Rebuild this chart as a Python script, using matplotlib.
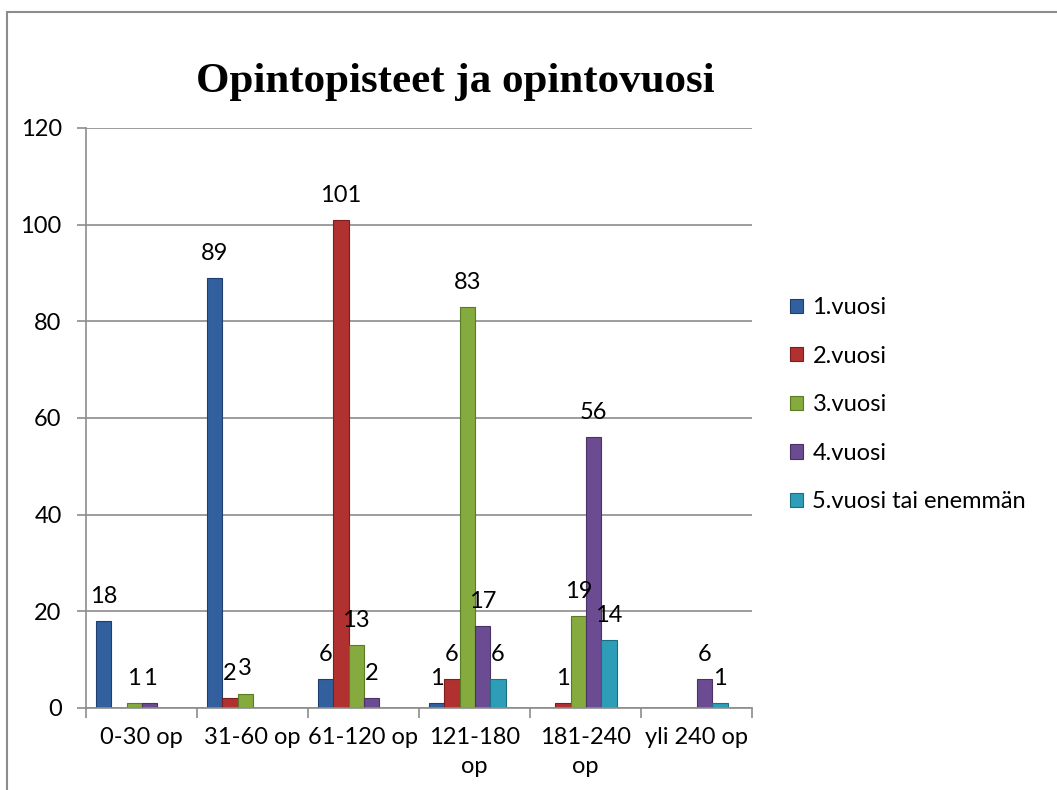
import numpy as np
import matplotlib.pyplot as plt
from matplotlib.patches import Rectangle

# data
categories = ["0-30 op", "31-60 op", "61-120 op", "121-180\nop", "181-240\nop", "yli 240 op"]
series_names = ["1.vuosi", "2.vuosi", "3.vuosi", "4.vuosi", "5.vuosi tai enemmän"]
v1 = [18, 89, 6, 1, None, None]
v2 = [None, 2, 101, 6, 1, None]
v3 = [1, 3, 13, 83, 19, None]
v4 = [1, None, 2, 17, 56, 6]
v5 = [None, None, None, 6, 14, 1]
values = [v1, v2, v3, v4, v5]

colors = ["#32609F", "#B0312F", "#85AA3E", "#6B4C92", "#2E9DB8"]
edges = ["#1F3F6E", "#7A1F1D", "#5A7A25", "#4A3266", "#1D6E82"]

plt.rcParams['font.family'] = ['Lato', 'DejaVu Sans']
fs = 17

fig = plt.figure(figsize=(10.57, 7.9), dpi=100)
ax = fig.add_axes([86/1057, 1 - 708/790, (752 - 86)/1057, (708 - 128)/790])

# outer chart frame
fig.patches.append(Rectangle((7/1057, -0.05), 1.1, 1 - 12/790 + 0.05,
                             transform=fig.transFigure, fill=False,
                             edgecolor='#8C8C8C', linewidth=1.5))

x = np.arange(len(categories))
w = 0.138
offset0 = -0.065
for i, (vals, c, ec, name) in enumerate(zip(values, colors, edges, series_names)):
    pos = x + offset0 + (i - 2) * w
    h = [np.nan if v is None else v for v in vals]
    ax.bar(pos, h, width=w, color=c, edgecolor=ec, linewidth=0.8, label=name)
    for p, v in zip(pos, vals):
        if v is None:
            continue
        ax.annotate(str(v), (p, v), xytext=(0, 13), textcoords='offset points',
                    ha='center', va='baseline', fontsize=fs)

ax.set_xlim(-0.5, len(categories) - 0.5)
ax.set_ylim(0, 120)
ax.set_yticks(np.arange(0, 121, 20))
ax.yaxis.grid(True, color='#8C8C8C', linewidth=1.2)
ax.set_axisbelow(True)

ax.set_xticks(x)
ax.set_xticklabels(categories, fontsize=fs, linespacing=1.45)
ax.set_xticks(np.arange(-0.5, len(categories)), minor=True)
ax.tick_params(axis='x', which='major', length=0, pad=14)
ax.tick_params(axis='x', which='minor', length=7, color='#8C8C8C', width=1.2)
ax.tick_params(axis='y', length=6.5, color='#8C8C8C', width=1.2, labelsize=fs, pad=11)

for s in ['top', 'right']:
    ax.spines[s].set_visible(False)
for s in ['left', 'bottom']:
    ax.spines[s].set_color('#8C8C8C')
    ax.spines[s].set_linewidth(1.2)

fig.text(455/1057, 1 - 82/790, "Opintopisteet ja opintovuosi",
         family='Liberation Serif', fontweight='bold', fontsize=31,
         ha='center', va='center')

leg = ax.legend(loc='upper left', bbox_to_anchor=(790/1057, 1 - 297/790),
                bbox_transform=fig.transFigure, frameon=False, fontsize=fs,
                handlelength=0.55, handleheight=0.55, handletextpad=0.4,
                labelspacing=1.17, borderaxespad=0, borderpad=0)

fig.savefig("out.png", dpi=100)
